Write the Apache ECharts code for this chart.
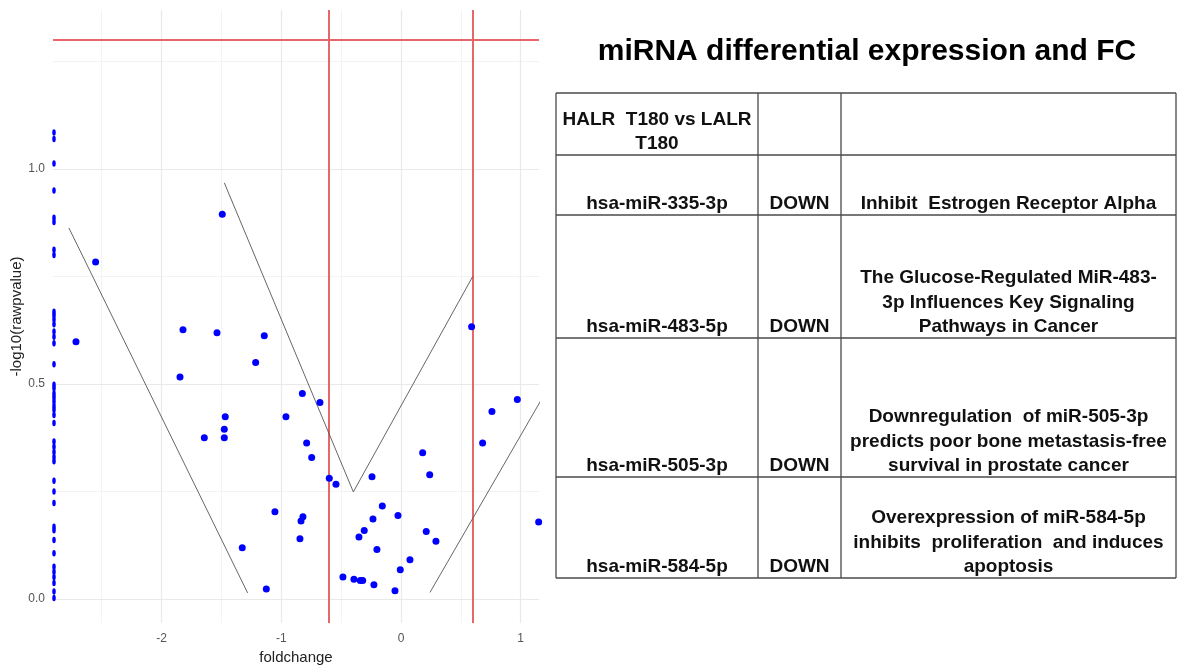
<!DOCTYPE html>
<html>
<head>
<meta charset="utf-8">
<script src="https://cdn.jsdelivr.net/npm/echarts@6/dist/echarts.min.js"></script>
<style>
  html, body { margin: 0; padding: 0; background: #fff; }
  #chart { width: 1185px; height: 666px; }
</style>
</head>
<body>
<div id="chart"></div>
<script>
// Volcano plot: foldchange vs -log10(raw p-value)
const xTicks = [-2, -1, 0, 1];
const xMinor = [-2.5, -1.5, -0.5, 0.5];
const yTicks = [0, 0.5, 1.0];
const yMinor = [0.25, 0.75, 1.25];

// cut-offs: |FC| threshold and p = 0.05
const fcCutoffs = [-0.6, 0.6];
const pCutoff = 1.301;

// miRNAs with foldchange beyond the lower axis limit (pinned to the left edge)
const edgeY = [1.085, 1.070, 1.013, 0.950, 0.887, 0.877, 0.812, 0.800,
  0.668, 0.660, 0.650, 0.639, 0.622, 0.610, 0.595, 0.546,
  0.498, 0.490, 0.478, 0.469, 0.459, 0.449, 0.440, 0.428, 0.409,
  0.366, 0.354, 0.342, 0.330, 0.320, 0.275, 0.250, 0.223,
  0.168, 0.160, 0.137, 0.106, 0.075, 0.063, 0.051, 0.037, 0.017, 0.002];

// remaining miRNAs: [foldchange, -log10(rawpvalue)]
const mirnaPoints = [
  [-2.551, 0.784], [-1.493, 0.895], [-2.715, 0.598], [-1.821, 0.626],
  [-1.537, 0.619], [-1.142, 0.612], [-1.214, 0.550], [-1.846, 0.516],
  [-1.468, 0.424], [-0.961, 0.424], [-1.476, 0.395], [-1.643, 0.375],
  [-1.476, 0.375], [-1.053, 0.203], [-1.326, 0.119], [-1.125, 0.023],
  [0.590, 0.633], [-0.824, 0.478], [-0.677, 0.457], [0.972, 0.464],
  [0.760, 0.436], [0.682, 0.363], [-0.788, 0.363], [-0.746, 0.329],
  [0.181, 0.340], [0.240, 0.289], [-0.599, 0.281], [-0.543, 0.267],
  [-0.242, 0.284], [-0.156, 0.216], [-0.819, 0.191], [-0.835, 0.181],
  [-0.234, 0.186], [-0.025, 0.194], [1.150, 0.179], [-0.307, 0.159],
  [-0.351, 0.144], [-0.844, 0.140], [0.211, 0.157], [0.292, 0.134],
  [-0.201, 0.115], [0.075, 0.091], [-0.006, 0.068], [-0.485, 0.051],
  [-0.393, 0.046], [-0.340, 0.043], [-0.320, 0.043], [-0.226, 0.033],
  [-0.050, 0.019]
];

// hand-drawn guide strokes
const guideLeft = [[-2.774, 0.863], [-1.281, 0.014]];
const guideV = [[-1.476, 0.968], [-0.398, 0.249], [0.599, 0.750]];
const guideRight = [[0.242, 0.015], [1.217, 0.485]];

// table content
const tableTitle = 'miRNA differential expression and FC';
const headerCells = ['HALR  T180 vs LALR\nT180', '', ''];
const mirnaNames = ['hsa-miR-335-3p', 'hsa-miR-483-5p', 'hsa-miR-505-3p', 'hsa-miR-584-5p'];
const regulation = ['DOWN', 'DOWN', 'DOWN', 'DOWN'];
const functions = [
  'Inhibit  Estrogen Receptor Alpha',
  'The Glucose-Regulated MiR-483-\n3p Influences Key Signaling\nPathways in Cancer',
  'Downregulation  of miR-505-3p\npredicts poor bone metastasis-free\nsurvival in prostate cancer',
  'Overexpression of miR-584-5p\ninhibits  proliferation  and induces\napoptosis'
];

const X_MIN = -2.907, X_MAX = 1.153, Y_MIN = -0.056, Y_MAX = 1.37;
const FONT = "'Liberation Sans', Arial, sans-serif";

// table geometry
const colX = [556, 758, 841, 1176];
const rowY = [93, 155, 215, 338, 477, 578];
const LINE_H = 24.5;
const tableFont = 'bold 19px ' + FONT;

const graphics = [];
graphics.push({
  type: 'text',
  style: { text: tableTitle, x: 867, y: 52, align: 'center', verticalAlign: 'middle',
           font: 'bold 30px ' + FONT, fill: '#000' }
});
const stroke = { stroke: '#4a4a4a', lineWidth: 1.3 };
rowY.forEach(y => graphics.push({ type: 'line', shape: { x1: colX[0], y1: y, x2: colX[3], y2: y }, style: stroke }));
colX.forEach(x => graphics.push({ type: 'line', shape: { x1: x, y1: rowY[0], x2: x, y2: rowY[rowY.length - 1] }, style: stroke }));

const rows = [headerCells].concat(mirnaNames.map((m, i) => [m, regulation[i], functions[i]]));
rows.forEach((cells, r) => {
  const bottom = rowY[r + 1];
  cells.forEach((txt, c) => {
    if (!txt) return;
    graphics.push({
      type: 'text',
      style: {
        text: txt, x: (colX[c] + colX[c + 1]) / 2, y: bottom - 11 + LINE_H / 2,
        align: 'center', verticalAlign: 'bottom', lineHeight: LINE_H,
        font: tableFont, fill: '#111'
      }
    });
  });
});

const chart = echarts.init(document.getElementById('chart'), null, { renderer: 'canvas' });

const markLineBase = {
  silent: true, symbol: ['none', 'none'], label: { show: false },
  emphasis: { disabled: true }, animation: false
};

chart.setOption({
  animation: false,
  backgroundColor: '#ffffff',
  grid: { left: 53, right: 646, top: 10, bottom: 43, outerBoundsMode: 'none', containLabel: false },
  xAxis: {
    type: 'value', min: X_MIN, max: X_MAX,
    axisLine: { show: false }, axisTick: { show: false }, splitLine: { show: false },
    axisLabel: { customValues: xTicks, color: '#555', fontSize: 12, fontFamily: FONT, margin: 10 },
    name: 'foldchange', nameLocation: 'middle', nameGap: 26,
    nameTextStyle: { color: '#222', fontSize: 15, fontFamily: FONT }
  },
  yAxis: {
    type: 'value', min: Y_MIN, max: Y_MAX,
    axisLine: { show: false }, axisTick: { show: false }, splitLine: { show: false },
    axisLabel: { customValues: yTicks, color: '#555', fontSize: 12, fontFamily: FONT, margin: 8,
                 formatter: v => v.toFixed(1) },
    name: '-log10(rawpvalue)', nameLocation: 'middle', nameGap: 29, nameRotate: 90,
    nameTextStyle: { color: '#222', fontSize: 15, fontFamily: FONT }
  },
  series: [
    {
      name: 'minor grid', type: 'line', data: [], z: 1, silent: true,
      markLine: Object.assign({}, markLineBase, {
        z: 1,
        lineStyle: { color: '#f3f3f3', width: 1, type: 'solid' },
        data: xMinor.map(v => ({ xAxis: v })).concat(yMinor.map(v => ({ yAxis: v })))
      })
    },
    {
      name: 'major grid', type: 'line', data: [], z: 1, silent: true,
      markLine: Object.assign({}, markLineBase, {
        z: 1,
        lineStyle: { color: '#e9e9e9', width: 1.2, type: 'solid' },
        data: xTicks.map(v => ({ xAxis: v })).concat(yTicks.map(v => ({ yAxis: v })))
      })
    },
    {
      name: 'cutoffs', type: 'line', data: [], z: 2, silent: true,
      markLine: Object.assign({}, markLineBase, {
        z: 2,
        lineStyle: { color: '#e5676a', width: 2, type: 'solid' },
        data: fcCutoffs.map(v => ({ xAxis: v })).concat([{ yAxis: pCutoff }])
      })
    },
    ...[guideLeft, guideV, guideRight].map(d => ({
      type: 'line', z: 3, data: d, symbol: 'none', clip: false, silent: true,
      lineStyle: { color: '#555', width: 0.9 }
    })),
    {
      name: 'miRNA', type: 'scatter', z: 4, symbolSize: 7,
      itemStyle: { color: '#0000ff', opacity: 1 },
      data: mirnaPoints
    },
    {
      name: 'miRNA (edge)', type: 'scatter', z: 4, symbolSize: [3.5, 6.5], symbolOffset: [1, 0],
      itemStyle: { color: '#0000ff', opacity: 1 },
      data: edgeY.map(y => [X_MIN, y])
    }
  ],
  graphic: graphics
});
</script>
</body>
</html>
